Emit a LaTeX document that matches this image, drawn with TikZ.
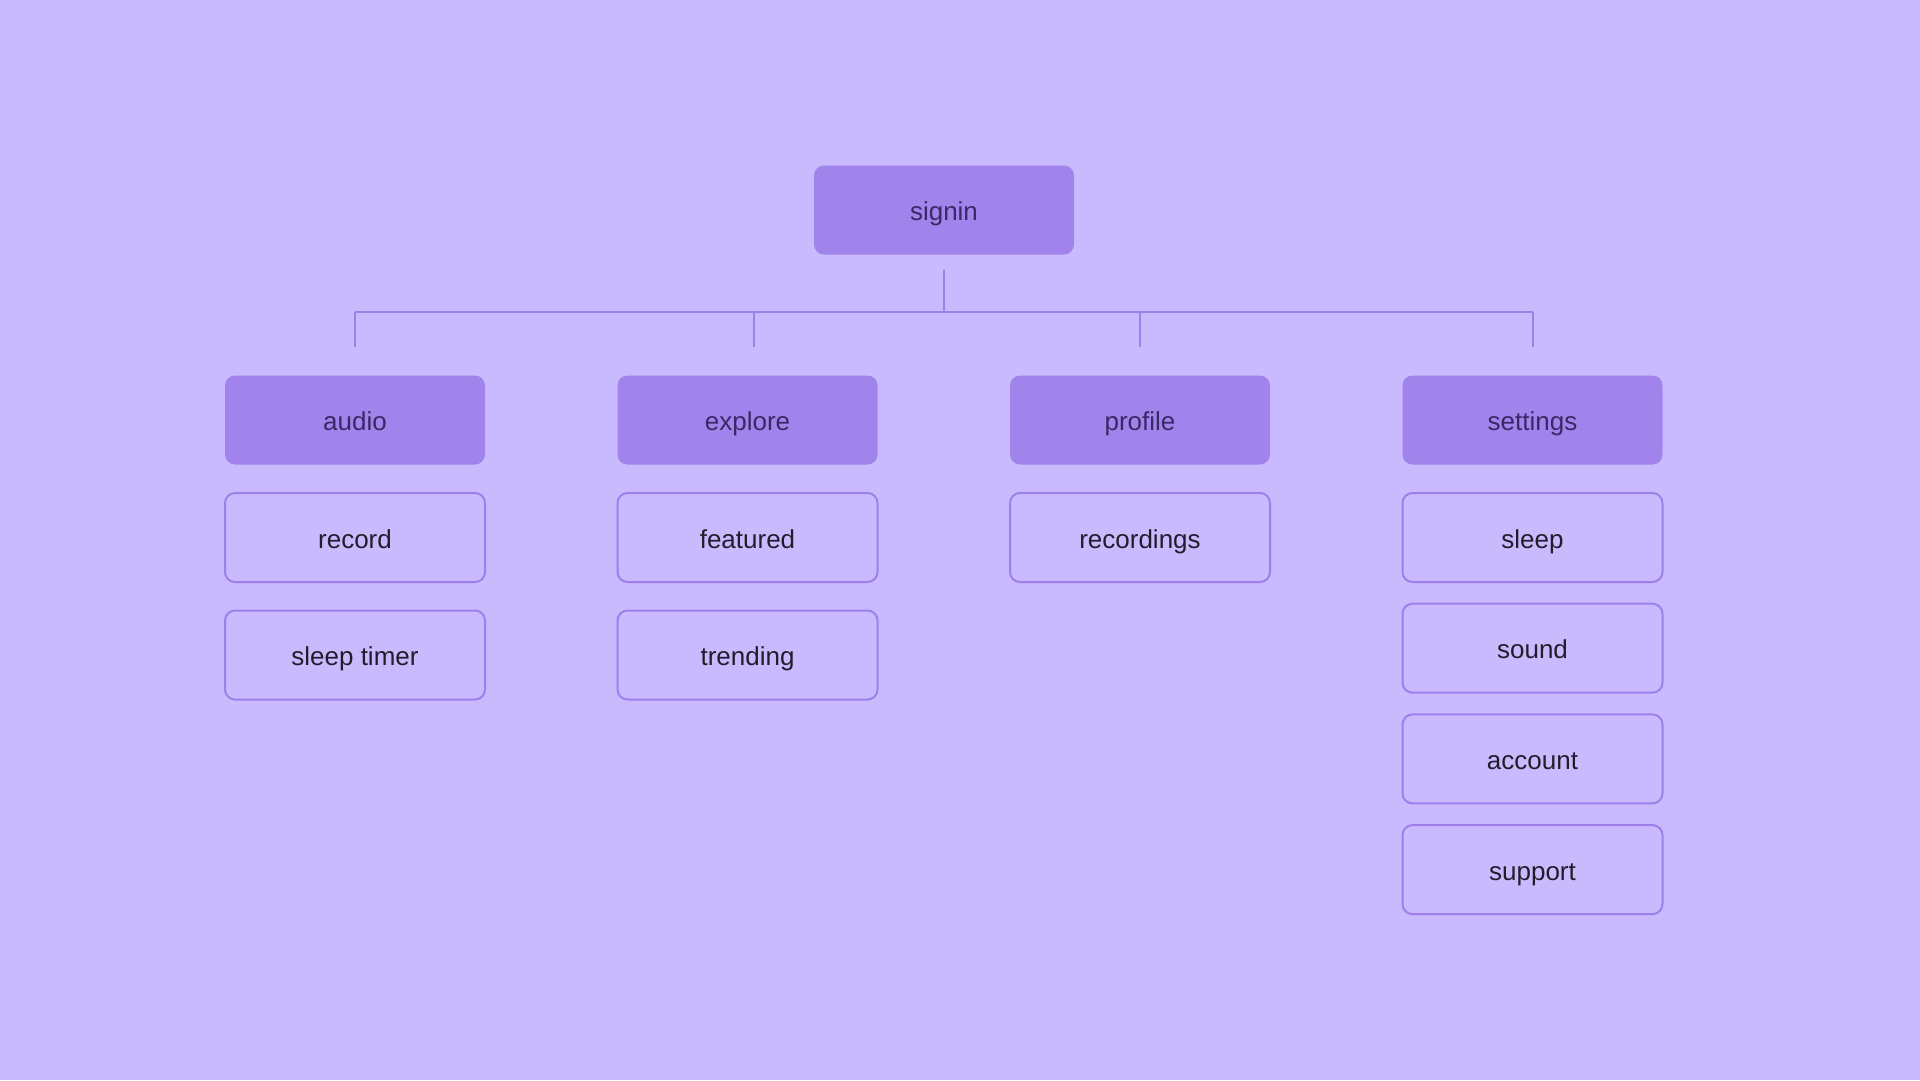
\documentclass[tikz,border=0pt]{standalone}
\usepackage{fontspec}
\setmainfont{Liberation Sans}
\usetikzlibrary{positioning}

\definecolor{bgpurple}{HTML}{C9BAFD}
\definecolor{boxpurple}{HTML}{A084EC}
\definecolor{linepurple}{HTML}{9D80EA}
\definecolor{headtext}{HTML}{3B2866}
\definecolor{itemtext}{HTML}{241C2C}

\begin{document}
\begin{tikzpicture}[x=1pt,y=-1pt,on grid,node distance=117.5pt and 392.5pt,
   box/.style={rectangle,rounded corners=10pt,minimum width=260pt,minimum height=89pt,
               text height=26pt,text depth=5pt,font=\fontsize{26}{30}\selectfont},
   head/.style={box,fill=boxpurple,text=headtext},
   item/.style={box,draw=linepurple,line width=2pt,fill=bgpurple,text=itemtext},
   link/.style={linepurple,line width=2pt}]
   \fill[bgpurple] (0,0) rectangle (1920,1080);

   \node[head] (signin) at (944,210) {signin};

   \node[head] (audio)    at (355,420)         {audio};
   \node[head] (explore)  [right=of audio]     {explore};
   \node[head] (profile)  [right=of explore]   {profile};
   \node[head] (settings) [right=of profile]   {settings};

   \node[item] (record)     [below=of audio]      {record};
   \node[item] (sleeptimer) [below=of record]     {sleep timer};
   \node[item] (featured)   [below=of explore]    {featured};
   \node[item] (trending)   [below=of featured]   {trending};
   \node[item] (recordings) [below=of profile]    {recordings};
   \node[item] (sleep)      [below=of settings]   {sleep};
   \node[item] (sound)      [below=110.7pt of sleep] {sound};
   \node[item] (account)    [below=110.7pt of sound] {account};
   \node[item] (support)    [below=110.7pt of account] {support};

   % tree lines
   \path (signin.south) ++(0,15) coordinate (root-end) ++(0,43) coordinate (hub);
   \path (audio.north) ++(0,-28) coordinate (audio-end) ++(0,-35) coordinate (audio-bus);
   \path ([xshift=6pt]explore.north) ++(0,-28) coordinate (explore-end) ++(0,-35) coordinate (explore-bus);
   \path (profile.north) ++(0,-28) coordinate (profile-end) ++(0,-35) coordinate (profile-bus);
   \path (settings.north) ++(0,-28) coordinate (settings-end) ++(0,-35) coordinate (settings-bus);

   \draw[link] (root-end) -- (hub);
   \draw[link] (audio-bus) -- (settings-bus);
   \foreach \n in {audio,explore,profile,settings}
      \draw[link] (\n-bus) -- (\n-end);
\end{tikzpicture}
\end{document}
